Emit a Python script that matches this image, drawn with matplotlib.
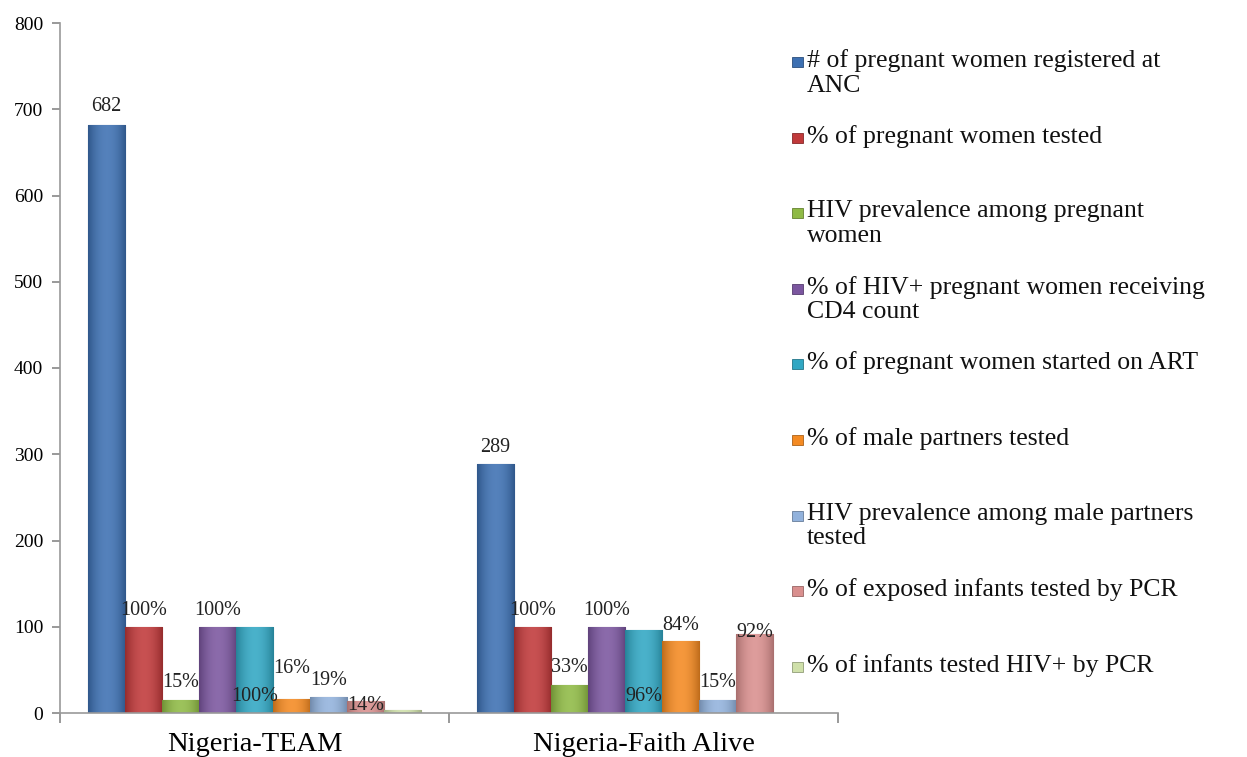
import matplotlib
matplotlib.use("Agg")
import matplotlib.pyplot as plt
from matplotlib.patches import Rectangle
import numpy as np

plt.rcParams['font.family'] = ['Liberation Serif', 'DejaVu Serif']

categories = ["Nigeria-TEAM", "Nigeria-Faith Alive"]
series_names = [
    "# of pregnant women registered at\nANC",
    "% of pregnant women tested",
    "HIV prevalence among pregnant\nwomen",
    "% of HIV+ pregnant women receiving\nCD4 count",
    "% of pregnant women started on ART",
    "% of male partners tested",
    "HIV prevalence among male partners\ntested",
    "% of exposed infants tested by PCR",
    "% of infants tested HIV+ by PCR",
]
team_values = [682, 100, 15, 100, 100, 16, 19, 14, 4]
faith_values = [289, 100, 33, 100, 96, 84, 15, 92, 0]
team_labels = ["682", "100%", "15%", "100%", "100%", "16%", "19%", "14%", ""]
faith_labels = ["289", "100%", "33%", "100%", "96%", "84%", "15%", "92%", ""]
colors = ["#3D70B2", "#C0393A", "#8FBA45", "#7B569F", "#31A7C3",
          "#F48A22", "#92B2DC", "#D98F8E", "#CFE0AA"]
yticks = [0, 100, 200, 300, 400, 500, 600, 700, 800]

# label vertical placement (data units) mimicking the original layout
team_label_y = [703, 119, 35, 119, 19, 52, 38, 9, 0]
faith_label_y = [308, 119, 53, 119, 19, 102, 35, 93, 0]

W, H = 1247, 757
fig = plt.figure(figsize=(W / 100, H / 100), dpi=100)
ax = fig.add_axes([60 / W, 1 - 713 / H, (838 - 60) / W, (713 - 23) / H])

n = len(series_names)
w = 0.0954
x = np.arange(len(categories))
values = [team_values, faith_values]
labels = [team_labels, faith_labels]
label_y = [team_label_y, faith_label_y]


def shade(c, f):
    r, g, b = matplotlib.colors.to_rgb(c)
    if f < 1:
        return (r * f, g * f, b * f)
    t = f - 1
    return (r + (1 - r) * t, g + (1 - g) * t, b + (1 - b) * t)


prof = np.linspace(-1, 1, 64)
prof = 1 - np.abs(prof) ** 2  # 0 at edges, 1 at centre

for i in range(n):
    vals = [values[0][i], values[1][i]]
    pos = x + (i - (n - 1) / 2) * w
    bars = ax.bar(pos, vals, width=w, color=colors[i],
                  edgecolor=shade(colors[i], 0.8), linewidth=0.8, zorder=2)
    dark = np.array(shade(colors[i], 0.78))
    light = np.array(shade(colors[i], 1.12))
    grad = dark[None, :] + (light - dark)[None, :] * prof[:, None]
    img = grad[None, :, :]
    for b, v in zip(bars, vals):
        if v <= 0:
            continue
        x0 = b.get_x()
        im = ax.imshow(img, extent=[x0, x0 + w, 0, v], aspect='auto',
                       zorder=2.1, interpolation='bilinear')
        im.set_clip_path(b)
    for k in range(len(categories)):
        lab = labels[k][i]
        if lab:
            ax.text(pos[k], label_y[k][i], lab, ha='center', va='center',
                    fontsize=14.5, color='#222222', zorder=3)

ax.set_xlim(-0.5, 1.5)
ax.set_ylim(0, 800)
ax.set_yticks(yticks)
ax.set_yticklabels([str(v) for v in yticks], fontsize=14)
ax.set_xticks(x)
ax.set_xticklabels(categories, fontsize=20.5)
ax.set_xticks([-0.5, 0.5, 1.5], minor=True)
ax.tick_params(axis='x', which='major', length=0, pad=14)
ax.tick_params(axis='x', which='minor', length=7, color='#888888', width=1.2)
ax.tick_params(axis='y', length=6, color='#888888', width=1.2, pad=6)
for s in ['top', 'right']:
    ax.spines[s].set_visible(False)
for s in ['left', 'bottom']:
    ax.spines[s].set_color('#999999')
    ax.spines[s].set_linewidth(1.2)

# manual legend in Excel-like layout
for i in range(n):
    yc = 62 + i * 75.6
    fig.patches.append(Rectangle((792 / W, 1 - (yc + 5) / H), 11 / W, 10 / H,
                                 transform=fig.transFigure, facecolor=colors[i],
                                 edgecolor=shade(colors[i], 0.7), linewidth=0.6))
    fig.text(807 / W, 1 - (yc - 13) / H, series_names[i], ha='left', va='top',
             fontsize=18.5, linespacing=1.15, color='#111111')

fig.savefig("out.png", dpi=100)
